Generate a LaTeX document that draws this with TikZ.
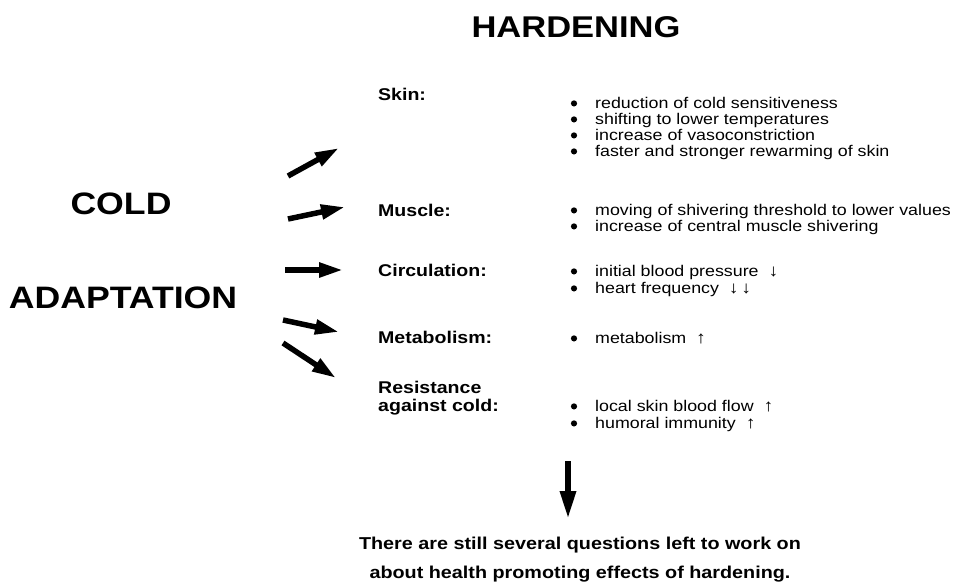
\documentclass[tikz,border=0pt]{standalone}
\usepackage{fontspec}
\setmainfont{Liberation Sans}[FakeStretch=1.15]
\usetikzlibrary{arrows.meta}
\newcommand\upar{{\fontsize{17}{15}\selectfont ↑}}
\newcommand\dnar{{\fontsize{17}{15}\selectfont ↓}}
\begin{document}
\begin{tikzpicture}[x=1pt,y=-1pt,
  big/.style={font=\fontsize{31}{31}\selectfont\bfseries, inner sep=0},
  lab/.style={font=\fontsize{17}{17}\selectfont\bfseries, anchor=base west, inner sep=0},
  itm/.style={font=\fontsize{15.5}{15.5}\selectfont, anchor=base west, inner sep=0},
  fin/.style={font=\fontsize{17.2}{17}\selectfont\bfseries, anchor=base, inner sep=0},
  fat/.style={line width=5.5pt, -{Triangle[length=24pt,width=14pt]}}]
\path[use as bounding box] (0,0) rectangle (954,584);

\node[big,font=\fontsize{30}{30}\selectfont\bfseries] (hard) at (576,27) {HARDENING};
\node[big] (cold) at (121,204) {COLD};
\node[big] (adapt) at (123,298) {ADAPTATION};

% labels
\node[lab] (skin) at (378,100) {Skin:};
\node[lab] (muscle) at (378,216) {Muscle:};
\node[lab] (circ) at (378,276) {Circulation:};
\node[lab] (metab) at (378,343) {Metabolism:};
\node[lab] (resist) at (378,393) {Resistance};
\node[lab] (against) at (378,411) {against cold:};

% items
\node[itm] (s1) at (595,108) {reduction of cold sensitiveness};
\node[itm] (s2) at (595,124) {shifting to lower temperatures};
\node[itm] (s3) at (595,140) {increase of vasoconstriction};
\node[itm] (s4) at (595,156) {faster and stronger rewarming of skin};
\node[itm] (m1) at (595,215) {moving of shivering threshold to lower values};
\node[itm] (m2) at (595,231) {increase of central muscle shivering};
\node[itm] (c1) at (595,276) {initial blood pressure\ \ \dnar};
\node[itm] (c2) at (595,293) {heart frequency\ \ \dnar\,\dnar};
\node[itm] (me1) at (595,343) {metabolism\ \ \upar};
\node[itm] (r1) at (595,411) {local skin blood flow\ \ \upar};
\node[itm] (r2) at (595,428) {humoral immunity\ \ \upar};

% bullets
\foreach \n in {s1,s2,s3,s4,m1,m2,c1,c2,me1,r1,r2}
  \fill ([xshift=-21pt,yshift=4.6pt]\n.base west) circle (3.1pt);

% fan arrows
\coordinate (a1t) at (288,176); \coordinate (a1h) at (339,148);
\coordinate (a2t) at (288,219); \coordinate (a2h) at (345,207);
\coordinate (a3t) at (285,270); \coordinate (a3h) at (343,270);
\coordinate (a4t) at (283,320); \coordinate (a4h) at (339,332);
\coordinate (a5t) at (283,343); \coordinate (a5h) at (336,378);
\draw[fat] (a1t) -- (a1h);
\draw[fat] (a2t) -- (a2h);
\draw[fat] (a3t) -- (a3h);
\draw[fat] (a4t) -- (a4h);
\draw[fat] (a5t) -- (a5h);

% down arrow and conclusion
\coordinate (dt) at (568,461); \coordinate (dh) at (568,519);
\draw[fat, -{Triangle[length=28pt,width=15pt]}, line width=6pt] (dt) -- (dh);
\node[fin] (f1) at (580,549) {There are still several questions left to work on};
\node[fin] (f2) at (580,578) {about health promoting effects of hardening.};
\end{tikzpicture}
\end{document}
